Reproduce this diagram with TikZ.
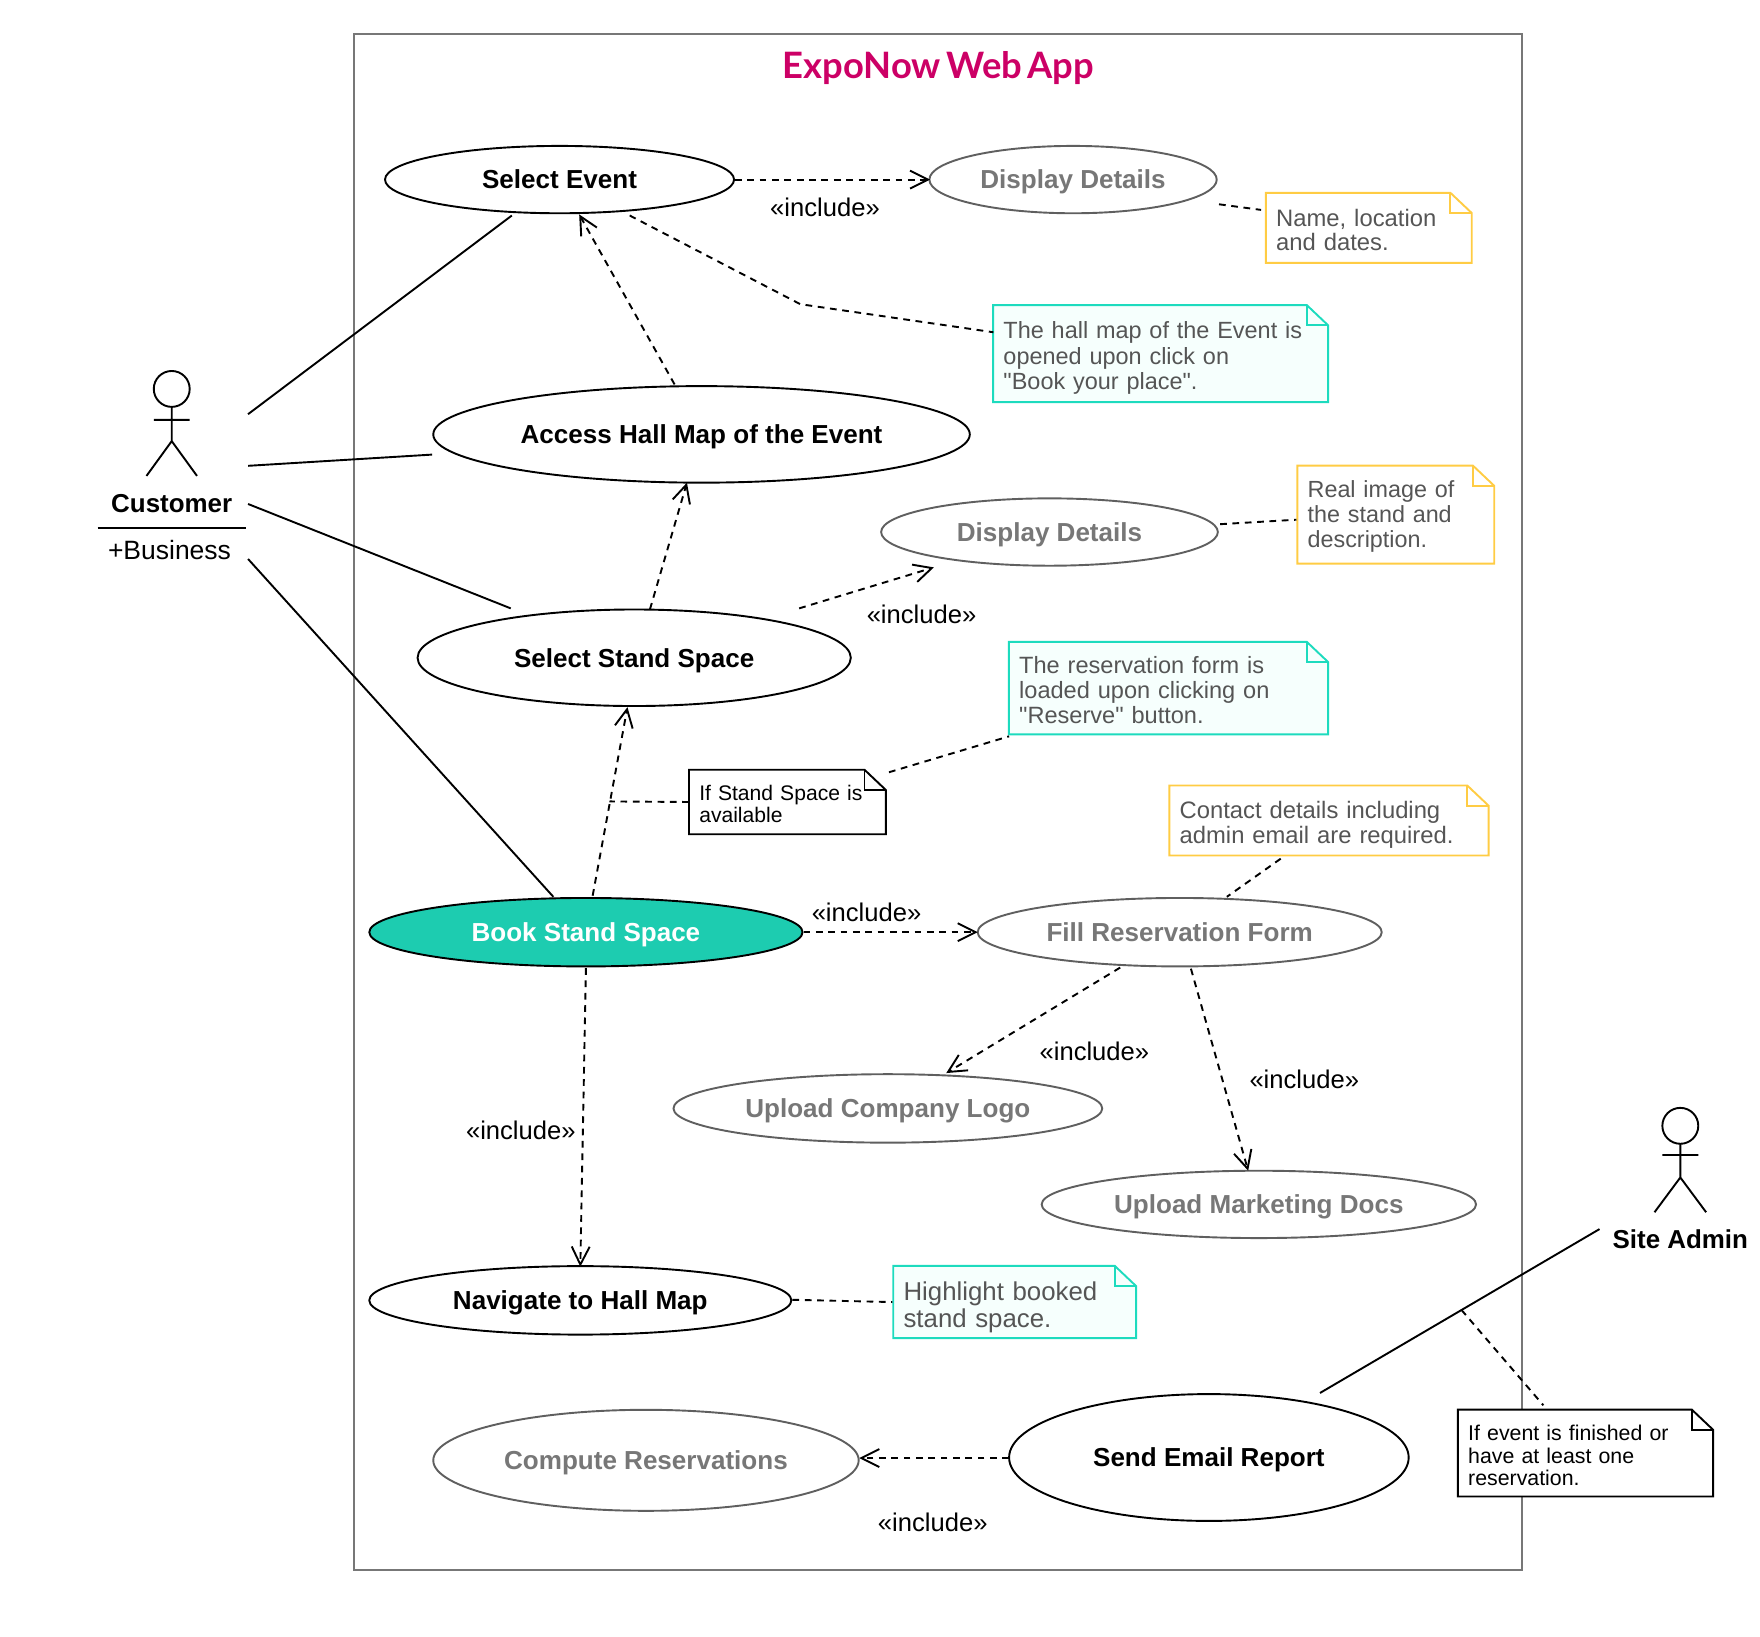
\documentclass[tikz,border=0pt]{standalone}
\usepackage{fontspec}
\setmainfont{Liberation Sans}[Ligatures=TeXOff]
\newfontfamily\titlefont{Lato}[WordSpace=0.6]
\usetikzlibrary{shapes.geometric,arrows.meta,backgrounds}
\definecolor{frameC}{HTML}{777777}
\definecolor{grayT}{HTML}{777777}
\definecolor{grayE}{HTML}{5F5F5F}
\definecolor{noteT}{HTML}{555555}
\definecolor{yel}{HTML}{FFCC44}
\definecolor{tealC}{HTML}{1DDBBE}
\definecolor{tealF}{HTML}{F6FFFD}
\definecolor{bookF}{HTML}{1DCCB0}
\definecolor{crim}{HTML}{CC0066}
\tikzset{
  uc/.style={ellipse,draw=black,fill=white,line width=1.7pt,inner sep=0pt,text height=16.6pt,text depth=0pt,font=\fontsize{23.2}{26}\selectfont\bfseries,text=black},
  ucg/.style={uc,draw=grayE,text=grayT},
  link/.style={line width=1.7pt,draw=black},
  dashlink/.style={link,dash pattern=on 6pt off 5pt},
  inc/.style={dashlink,-{Straight Barb[length=16pt,width=16pt,line width=1.7pt]}},
  lab/.style={font=\fontsize{22.8}{24}\selectfont,text=black,inner sep=0pt},
  yelnote/.style={draw=yel,fill=white,line width=1.7pt},
  tealnote/.style={draw=tealC,fill=tealF,line width=1.7pt},
  blknote/.style={draw=black,fill=white,line width=1.7pt},
  fig/.style={line width=1.7pt,draw=black},
  actor/.style={font=\fontsize{23.1}{26}\selectfont\bfseries,inner sep=0pt},
}
% name, cx, cy, w, h, box style, font size/skip, text colour, text
\newcommand{\notebox}[9]{%
  \node[inner xsep=9pt,inner ysep=0pt,text width=#4pt-18pt,minimum height=#5pt,align=left,
        font=\fontsize#7\selectfont,text=#8] (#1) at (#2,#3) {#9};
  \begin{scope}[on background layer]
    \path[#6] (#1.north west) -- ([xshift=-19pt]#1.north east) -- ([yshift=-18pt]#1.north east)
       -- (#1.south east) -- (#1.south west) -- cycle;
    \path[#6,fill=none] ([xshift=-19pt]#1.north east) -- ([xshift=-19pt,yshift=-18pt]#1.north east) -- ([yshift=-18pt]#1.north east);
  \end{scope}}
\newcommand{\lift}[1]{\rule{0pt}{#1pt}}
\begin{document}
\begin{tikzpicture}[x=1pt,y=-1pt]
\useasboundingbox (0,0) rectangle (1568,1457.6);
\begin{scope}[on background layer]
  \draw[draw=frameC,line width=1.8pt] (315,30) rectangle (1356,1399);
\end{scope}
\node[text=crim,font=\titlefont\fontsize{32.4}{36}\selectfont\bfseries,inner sep=0pt] (title) at (836,61) {ExpoNow Web App};

% use cases
\node[uc,minimum width=311pt,minimum height=60pt] (se) at (498.5,160) {Select Event};
\node[ucg,minimum width=256pt,minimum height=60pt] (dd1) at (956,160) {Display Details};
\node[uc,minimum width=478pt,minimum height=86pt] (ahm) at (625,387) {Access Hall Map of the Event};
\node[ucg,minimum width=300pt,minimum height=60pt] (dd2) at (935,474) {Display Details};
\node[uc,minimum width=386pt,minimum height=86pt] (sss) at (565,586) {Select Stand Space};
\node[uc,fill=bookF,text=white,minimum width=386pt,minimum height=61pt] (bss) at (522,830.5) {Book Stand Space};
\node[ucg,minimum width=360pt,minimum height=61pt] (frf) at (1051,830.5) {Fill Reservation Form};
\node[ucg,minimum width=382pt,minimum height=61pt] (ucl) at (791,987.5) {Upload Company Logo};
\node[ucg,minimum width=387pt,minimum height=60pt] (umd) at (1121.5,1073) {Upload Marketing Docs};
\node[uc,minimum width=376pt,minimum height=61pt] (nhm) at (517,1158.5) {Navigate to Hall Map};
\node[ucg,minimum width=379pt,minimum height=90pt] (cr) at (575.5,1301) {Compute Reservations};
\node[uc,minimum width=356pt,minimum height=113pt] (ser) at (1077,1298.5) {Send Email Report};

% notes
\notebox{n1}{1219.5}{203}{183}{62}{yelnote}{{21.2}{22}}{noteT}{\lift{19}Name, location\\and dates.}
\notebox{n2}{1034}{315}{298}{86}{tealnote}{{20.9}{23}}{noteT}{\lift{23}The hall map of the Event is\\opened upon click on\\"Book your place".}
\notebox{n3}{1243.5}{458.5}{175}{87}{yelnote}{{20.8}{22}}{noteT}{\lift{18}Real image of\\the stand and\\description.}
\notebox{n4}{1041}{613}{284}{82}{tealnote}{{21}{22}}{noteT}{\lift{19}The reservation form is\\loaded upon clicking on\\"Reserve" button.}
\notebox{n5}{701.5}{714.5}{175}{57}{blknote}{{18.8}{20}}{black}{\lift{17}If Stand Space is\\available}
\notebox{n6}{1184}{731}{284}{62}{yelnote}{{21.2}{22}}{noteT}{\lift{22.5}Contact details including\\admin email are required.}
\notebox{n7}{904}{1160}{216}{64}{tealnote}{{23}{24}}{noteT}{\lift{25.8}Highlight booked\\stand space.}
\notebox{n8}{1412.5}{1294.5}{227}{77}{blknote}{{19}{20}}{black}{\lift{18}If event is finished or\\have at least one\\reservation.}

% actors
\draw[fig] (153,346.5) circle[radius=16];
\draw[fig] (137,374) -- (169,374) (153,362.5) -- (153,393) (130.5,424) -- (153,393) -- (175.5,424);
\node[actor] (cust) at (153,449) {Customer};
\node[inner sep=0pt,font=\fontsize{23.6}{26}\selectfont] (biz) at (151,490) {+Business};
\draw[fig] (87,470.5) -- (219,470.5);
\draw[fig] (1497,1003) circle[radius=16];
\draw[fig] (1481,1029) -- (1513,1029) (1497,1019) -- (1497,1049) (1474,1080) -- (1497,1049) -- (1520,1080);
\node[actor] (admin) at (1497,1104) {Site Admin};

% associations
\draw[link] ([shift={(68,-80)}]cust.center) -- ([shift={(-42.5,32)}]se.center);
\draw[link] ([shift={(68,-34)}]cust.center) -- ([shift={(-240,18)}]ahm.center);
\draw[link] ([shift={(68,0)}]cust.center) -- ([shift={(-110,-44)}]sss.center);
\draw[link] ([shift={(68,49)}]cust.center) -- ([shift={(-29,-31.5)}]bss.center);
\draw[link] ([shift={(-72,-9)}]admin.center) -- ([shift={(99,-57.5)}]ser.center);

% include arrows
\draw[inc] (se.east) -- ([xshift=1.5pt]dd1.west);
\draw[inc] ([shift={(-24,-44.5)}]ahm.center) -- ([shift={(17.5,31)}]se.center);
\draw[inc] ([shift={(14,-43)}]sss.center) -- ([shift={(-13,43)}]ahm.center);
\draw[inc] ([shift={(147,-44)}]sss.center) -- ([shift={(-103,31.5)}]dd2.center);
\draw[inc] ([shift={(6,-32.5)}]bss.center) -- ([shift={(-6,44)}]sss.center);
\draw[inc] (bss.east) -- ([xshift=1pt]frf.west);
\draw[inc] ([shift={(-53,31.5)}]frf.center) -- ([shift={(52,-31.5)}]ucl.center);
\draw[inc] ([shift={(10,32.5)}]frf.center) -- ([shift={(-9.5,-30)}]umd.center);
\draw[inc] ([shift={(0,32)}]bss.center) -- ([shift={(0,-30)}]nhm.center);
\draw[inc] ([shift={(-178,0.5)}]ser.center) -- ([shift={(190,-2)}]cr.center);

% note links
\coordinate (bendA) at (713,271);
\coordinate (onBook) at (543,714);
\coordinate (onAdmin) at (1302,1167);
\draw[dashlink] ([shift={(62.5,32)}]se.center) -- (bendA) -- ([shift={(-149,-19)}]n2.center);
\draw[dashlink] ([shift={(130,22)}]dd1.center) -- ([shift={(-96,-16)}]n1.center);
\draw[dashlink] ([shift={(152,-7)}]dd2.center) -- ([shift={(-88.5,4.5)}]n3.center);
\draw[dashlink] (n5.west) -- (onBook);
\draw[dashlink] ([shift={(90.5,-26.5)}]n5.center) -- ([shift={(-142,43)}]n4.center);
\draw[dashlink] ([shift={(-43,34)}]n6.center) -- ([shift={(42,-31.5)}]frf.center);
\draw[dashlink] ([shift={(189,-0.5)}]nhm.center) -- ([shift={(-109,0)}]n7.center);
\draw[dashlink,dash phase=4pt] ([shift={(-37.5,-42.5)}]n8.center) -- (onAdmin);

% labels
\node[lab] (i1) at (735,185) {«include»};
\node[lab] (i2) at (821,547) {«include»};
\node[lab] (i3) at (772,813) {«include»};
\node[lab] (i4) at (975,937) {«include»};
\node[lab] (i5) at (1162,962) {«include»};
\node[lab] (i6) at (464,1007) {«include»};
\node[lab] (i7) at (831,1356) {«include»};
\end{tikzpicture}
\end{document}
